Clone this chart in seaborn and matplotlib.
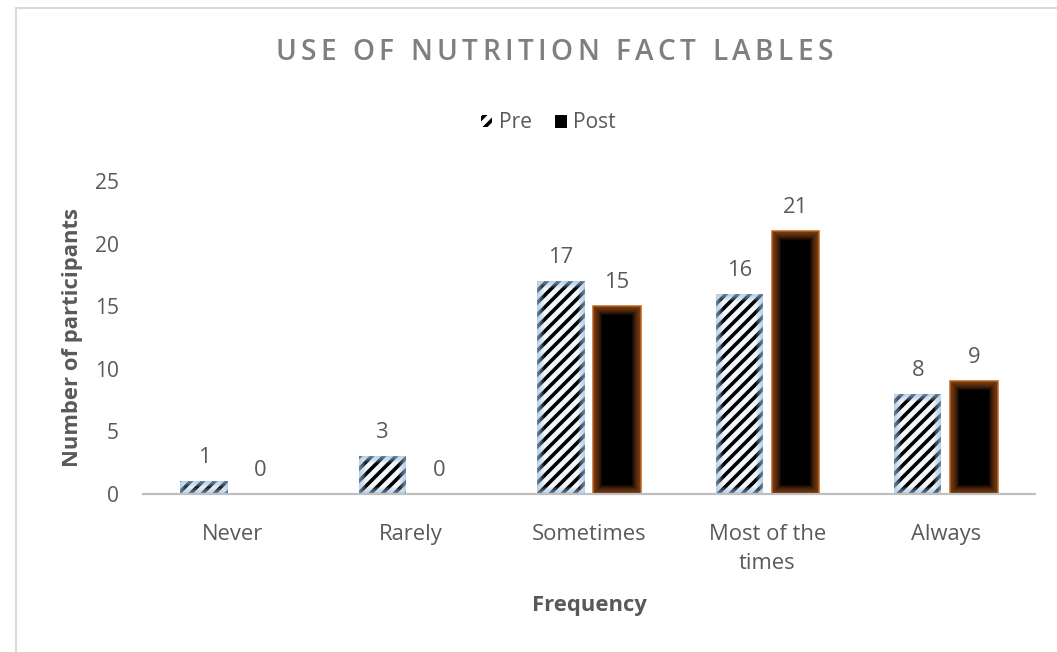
import matplotlib
matplotlib.use("Agg")
import matplotlib.pyplot as plt
from matplotlib.patches import Patch, Rectangle
import numpy as np
import pandas as pd
import seaborn as sns

# Survey responses: how often participants use nutrition fact labels
categories = ["Never", "Rarely", "Sometimes", "Most of the\ntimes", "Always"]
pre_counts = [1, 3, 17, 16, 8]
post_counts = [0, 0, 15, 21, 9]
series = ["Pre", "Post"]
y_ticks = [0, 5, 10, 15, 20, 25]
title = "USE OF NUTRITION FACT LABLES"

df = pd.DataFrame({
    "Frequency": categories * 2,
    "Period": [series[0]] * len(categories) + [series[1]] * len(categories),
    "Count": pre_counts + post_counts,
})

sns.set_theme(style="white")
plt.rcParams["font.family"] = ["Open Sans", "DejaVu Sans"]
plt.rcParams["hatch.linewidth"] = 3.6
plt.rcParams["hatch.color"] = "black"

TEXT = "#595959"
PRE_FACE = "#f4f8fc"
PRE_EDGE = "#9dc3e6"
POST_FACE = "#000000"
POST_EDGE = "#c0621f"

W, H, DPI = 1057, 652, 72
fig = plt.figure(figsize=(W / DPI, H / DPI), dpi=DPI)
fig.patch.set_facecolor("white")
ax = fig.add_axes([143 / W, 1 - 494 / H, (1035 - 143) / W, (494 - 181) / H])

sns.barplot(data=df, x="Frequency", y="Count", hue="Period", hue_order=series,
            palette={"Pre": PRE_FACE, "Post": POST_FACE}, width=0.63, gap=0.16,
            legend=False, ax=ax, saturation=1)

pre_bars, post_bars = ax.containers[0], ax.containers[1]


def inner_glow(bar, color, widths, alpha):
    """Soft coloured band fading inward from the edge of a bar."""
    for lw in widths:
        r = Rectangle((bar.get_x(), bar.get_y()), bar.get_width(), bar.get_height(),
                      fill=False, edgecolor=color, linewidth=lw, alpha=alpha,
                      zorder=bar.get_zorder() + 0.1)
        ax.add_patch(r)
        r.set_clip_path(bar)


for bar, v in zip(pre_bars, pre_counts):
    bar.set_hatch("//")
    bar.set_edgecolor("black")
    bar.set_linewidth(0)
    if v > 0:
        inner_glow(bar, PRE_EDGE, np.linspace(2, 14, 7), 0.14)
for bar, v in zip(post_bars, post_counts):
    bar.set_facecolor(POST_FACE)
    bar.set_edgecolor(POST_EDGE)
    bar.set_linewidth(1.5 if v > 0 else 0)
    if v > 0:
        inner_glow(bar, POST_EDGE, np.linspace(2, 18, 9), 0.11)

# Value labels above each bar
for cont, vals in ((pre_bars, pre_counts), (post_bars, post_counts)):
    for bar, v in zip(cont, vals):
        ax.annotate(f"{v}", (bar.get_x() + bar.get_width() / 2, v),
                    xytext=(0, 13), textcoords="offset points",
                    ha="center", va="bottom", fontsize=22, color=TEXT)

ax.set_ylim(0, 25)
ax.set_xlim(-0.5, len(categories) - 0.5)
ax.set_yticks(y_ticks)
ax.set_yticklabels([str(t) for t in y_ticks])
ax.tick_params(axis="y", length=0, pad=24, labelsize=21, labelcolor=TEXT)
ax.tick_params(axis="x", length=0, pad=30, labelsize=22, labelcolor=TEXT)
for lbl in ax.get_xticklabels():
    lbl.set_linespacing(1.5)

for side in ("top", "right", "left"):
    ax.spines[side].set_visible(False)
ax.spines["bottom"].set_color("#bfbfbf")
ax.spines["bottom"].set_linewidth(2.2)
ax.grid(False)

ax.set_xlabel("Frequency", fontsize=22, fontweight="bold", color=TEXT, labelpad=21)
ax.set_ylabel("Number of participants", fontsize=22, fontweight="bold",
              color=TEXT, labelpad=12)

# Title with letter tracking: place characters one by one
renderer = fig.canvas.get_renderer()
title_kw = dict(fontsize=28, fontweight="semibold", color="#7f7f7f", va="center", ha="left")
probe = fig.text(0, 0, "", **title_kw)


def _w(s):
    probe.set_text(s)
    return probe.get_window_extent(renderer).width


char_w = [_w("I" + ch + "I") - _w("II") for ch in title]
probe.remove()
target_w = 833 - 275
track = (target_w - sum(char_w)) / (len(title) - 1)
x = 554 - target_w / 2
for ch, cw in zip(title, char_w):
    if ch != " ":
        fig.text(x / W, 1 - 53 / H, ch, **title_kw)
    x += cw + track

handles = [Patch(facecolor="white", edgecolor="black", hatch="//", linewidth=0, label="Pre"),
           Patch(facecolor=POST_FACE, edgecolor=POST_FACE, label="Post")]
fig.legend(handles=handles, loc="center", bbox_to_anchor=(548 / W, 1 - 123 / H),
           ncol=2, frameon=False, fontsize=21, handlelength=0.55, handleheight=0.55,
           handletextpad=0.3, columnspacing=1.1, labelcolor=TEXT)

# Chart-area frame
fig.add_artist(Rectangle((16 / W, -0.1), 1.2, 1.1 - 8 / H, transform=fig.transFigure,
                         fill=False, edgecolor="#d9d9d9", linewidth=2))

fig.savefig("out.png", dpi=DPI, facecolor="white")
